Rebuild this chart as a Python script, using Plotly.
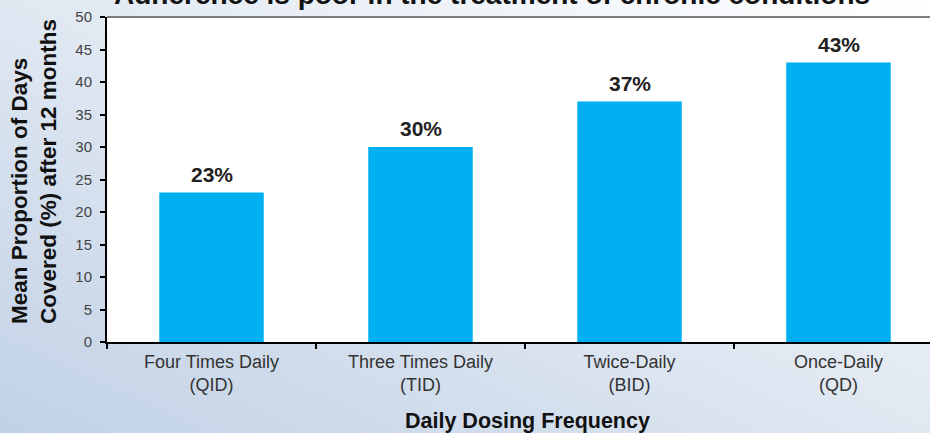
import base64
import plotly.graph_objects as go

# ---- data ----
categories = ["Four Times Daily<br>(QID)", "Three Times Daily<br>(TID)",
              "Twice-Daily<br>(BID)", "Once-Daily<br>(QD)"]
values = [23, 30, 37, 43]
value_labels = ["23%", "30%", "37%", "43%"]
y_tick_vals = [0, 5, 10, 15, 20, 25, 30, 35, 40, 45, 50]
title_text = "Adherence is poor in the treatment of chronic conditions"
y_title_text = "Mean Proportion of Days<br>Covered (%) after 12 months"
x_title_text = "Daily Dosing Frequency"

FONT = "Arial, 'Liberation Sans', sans-serif"

# gradient background as an inline SVG
svg = (
    '<svg xmlns="http://www.w3.org/2000/svg" width="930" height="433" preserveAspectRatio="none">'
    '<defs><linearGradient id="g" x1="1" y1="0" x2="0" y2="1">'
    '<stop offset="0" stop-color="#ffffff"/>'
    '<stop offset="0.45" stop-color="#e3eaf3"/>'
    '<stop offset="1" stop-color="#c1d1e6"/>'
    '</linearGradient></defs>'
    '<rect width="930" height="433" fill="url(#g)"/></svg>'
)
svg_uri = "data:image/svg+xml;base64," + base64.b64encode(svg.encode()).decode()

fig = go.Figure()
fig.add_trace(go.Bar(
    x=categories, y=values,
    marker=dict(color="#00b0f0", line=dict(width=0)),
    width=0.5, hoverinfo="skip",
))

value_annotations = [
    dict(x=c, y=v, text=t, xref="x", yref="y", showarrow=False,
         xanchor="center", yanchor="bottom", yshift=5,
         font=dict(family=FONT, size=21, color="#222222", weight="bold"))
    for c, v, t in zip(categories, values, value_labels)
]

fig.update_layout(
    width=930, height=433, autosize=False,
    margin=dict(l=107, r=0, t=17, b=91, pad=0),
    paper_bgcolor="#dfe7f1", plot_bgcolor="rgba(0,0,0,0)",
    showlegend=False,
    font=dict(family=FONT),
    images=[dict(source=svg_uri, xref="paper", yref="paper",
                 x=-107 / 823, y=1 + 17 / 325, sizex=930 / 823, sizey=433 / 325,
                 xanchor="left", yanchor="top", sizing="stretch", layer="below")],
    shapes=[
        dict(type="rect", xref="paper", yref="paper", x0=0, x1=1, y0=0, y1=1,
             fillcolor="white", line=dict(width=0), layer="below"),
        dict(type="line", xref="paper", yref="paper", x0=0, x1=1, y0=1, y1=1,
             line=dict(color="#555555", width=1.5), layer="above"),
    ],
    annotations=value_annotations + [
        dict(text=title_text, xref="paper", yref="paper", x=0.468, y=1.0677,
             xanchor="center", yanchor="middle", showarrow=False,
             font=dict(family=FONT, size=28, color="#111111", weight="bold")),
        dict(text=y_title_text, xref="paper", yref="paper", x=(34 - 107) / 823,
             y=(342 - 172) / 325, xanchor="center", yanchor="middle", textangle=-90,
             align="left", showarrow=False,
             font=dict(family=FONT, size=22.5, color="#111111", weight="bold")),
        dict(text=x_title_text, xref="paper", yref="paper", x=(527 - 107) / 823,
             y=(342 - 421) / 325, xanchor="center", yanchor="middle", showarrow=False,
             font=dict(family=FONT, size=21.5, color="#111111", weight="bold")),
    ],
)

fig.update_xaxes(
    type="category", categoryorder="array", categoryarray=categories,
    range=[-0.5, -0.5 + 823 / 209],
    showline=True, linecolor="black", linewidth=2,
    ticks="outside", tickson="boundaries", ticklen=5, tickwidth=1.5, tickcolor="black",
    tickfont=dict(family=FONT, size=18, color="#333333"),
    ticklabelstandoff=2,
    showgrid=False, zeroline=False, fixedrange=True,
)
fig.update_yaxes(
    range=[0, 50], tickvals=y_tick_vals,
    showline=True, linecolor="black", linewidth=2,
    ticks="outside", ticklen=5, tickwidth=1.5, tickcolor="black",
    tickfont=dict(family=FONT, size=15, color="#444444"),
    ticklabelstandoff=5,
    showgrid=False, zeroline=False, fixedrange=True,
)

fig.write_html("out.html", config={"displayModeBar": False})
